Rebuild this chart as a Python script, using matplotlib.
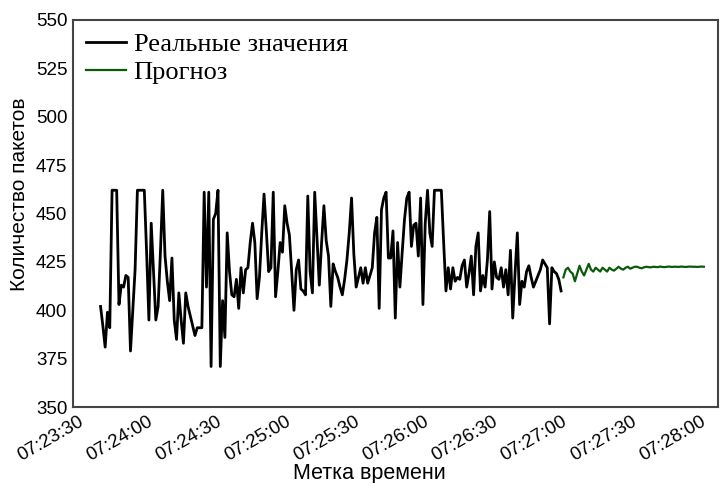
import matplotlib
matplotlib.use('Agg')
import matplotlib.pyplot as plt
import matplotlib.dates as mdates
import pandas as pd

# packet counts per second
real_start = '2023-01-01 07:23:36'
real_values = [
    402, 392, 381, 399, 391, 462, 462, 462, 403, 413, 412, 418, 417, 379, 400, 421,
    462, 462, 462, 462, 430, 395, 445, 420, 395, 402, 430, 462, 428, 415, 405, 427,
    395, 385, 409, 395, 383, 409, 402, 397, 392, 387, 391, 391, 391, 461, 412, 461,
    371, 447, 450, 462, 371, 405, 386, 440, 420, 408, 407, 416, 401, 422, 409, 421,
    422, 435, 445, 435, 406, 417, 440, 460, 441, 420, 422, 461, 407, 420, 435, 430,
    454, 445, 439, 420, 400, 421, 426, 411, 410, 408, 459, 420, 409, 461, 437, 413,
    435, 454, 436, 428, 402, 424, 420, 417, 412, 408, 416, 426, 440, 458, 429, 412,
    417, 422, 414, 422, 414, 418, 422, 440, 448, 401, 452, 458, 461, 427, 427, 441,
    396, 435, 412, 430, 447, 458, 461, 433, 444, 445, 428, 458, 403, 445, 462, 440,
    433, 462, 462, 462, 462, 435, 410, 422, 411, 422, 415, 417, 416, 423, 426, 412,
    419, 428, 408, 433, 440, 410, 418, 412, 426, 451, 411, 425, 417, 416, 422, 412,
    421, 408, 431, 396, 419, 440, 403, 415, 412, 420, 423, 417, 412, 415, 418, 421,
    426, 424, 422, 393, 422, 420, 419, 416, 410,
]

forecast_start = '2023-01-01 07:26:57'
forecast_values = [
    417, 421, 422, 420, 419, 415, 419, 423, 420, 418, 421, 424, 421, 420, 422, 421,
    420, 422, 421, 420, 422, 421, 420.5, 421.5, 422.5, 421.5, 421, 422, 422.5, 421.5,
    422, 422.5, 422.5, 422, 421.7, 422.2, 422.5, 422.3, 422.2, 422.5, 422.4, 422.3,
    422.6, 422.4, 422.3, 422.5, 422.6, 422.4, 422.5, 422.5, 422.4, 422.6, 422.5, 422.4,
    422.5, 422.6, 422.5, 422.5, 422.4, 422.5, 422.6, 422.5,
]

y_ticks = [350, 375, 400, 425, 450, 475, 500, 525, 550]

real_time = pd.date_range(real_start, periods=len(real_values), freq='1s')
forecast_time = pd.date_range(forecast_start, periods=len(forecast_values), freq='1s')

fig, ax = plt.subplots(figsize=(7.22, 4.83), dpi=100)
fig.subplots_adjust(left=0.101, right=0.994, top=0.959, bottom=0.157)

ax.plot(real_time, real_values, color='black', lw=2, label='Реальные значения')
ax.plot(forecast_time, forecast_values, color='#0a5a0a', lw=1.6, label='Прогноз')

ax.set_xlim(pd.Timestamp('2023-01-01 07:23:24'), pd.Timestamp('2023-01-01 07:28:04'))
ax.set_ylim(350, 550)
ax.set_yticks(y_ticks)
ax.xaxis.set_major_locator(mdates.SecondLocator(bysecond=[0, 30]))
ax.xaxis.set_major_formatter(mdates.DateFormatter('%H:%M:%S'))

for lbl in ax.get_xticklabels():
    lbl.set_rotation(30)
    lbl.set_ha('right')
ax.tick_params(length=0, pad=4, labelsize=13.5)
for lbl in ax.get_xticklabels() + ax.get_yticklabels():
    lbl.set_family('Liberation Sans')

for s in ax.spines.values():
    s.set_color('#444444')
    s.set_linewidth(1.5)

ax.set_xlabel('Метка времени', fontsize=15.5, family='Liberation Sans')
ax.set_ylabel('Количество пакетов', fontsize=15, family='Liberation Sans')
ax.xaxis.set_label_coords(0.46, -0.145)
ax.yaxis.set_label_coords(-0.068, 0.55)

ax.legend(loc='upper left', frameon=False, handlelength=1.5, handletextpad=0.3,
          borderaxespad=0.1, borderpad=0.4, labelspacing=0.15,
          prop={'family': 'Liberation Serif', 'size': 19})

fig.savefig('out.png', dpi=100)
